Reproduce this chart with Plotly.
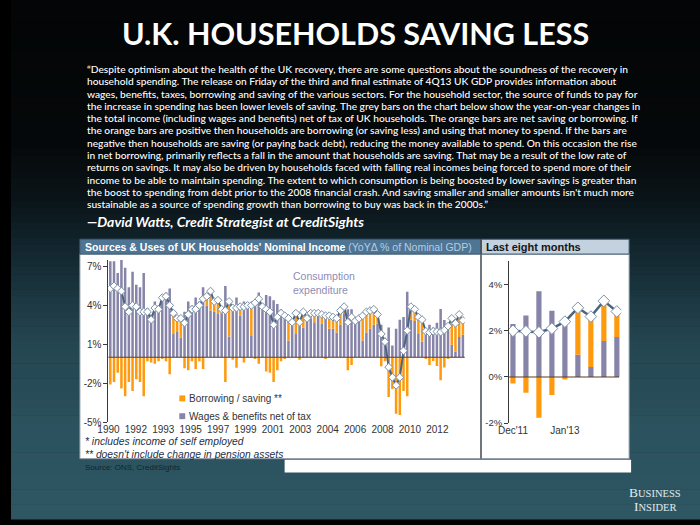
import plotly.graph_objects as go

# ---------------- data ----------------
# Quarterly, 1990Q1 .. 2013Q4 (96 quarters), % of nominal GDP, YoY change
quarter_index = list(range(96))

wages_net_tax = [
    7.4, 7.4, 6.5, 7.5, 6.9, 5.4, 6.6, 5.6, 5.4, 6.5,
    3.8, 3.3, 4.3, 4.0, 4.7, 5.0, 5.3, 1.8, 2.0, 1.5,
    3.5, 4.3, 4.0, 4.6, 4.3, 5.4, 4.0, 3.6, 3.5, 3.4,
    3.4, 5.5, 1.6, 4.0, 4.6, 3.2, 4.3, 3.8, 1.7, 4.3,
    5.0, 3.8, 4.8, 4.7, 4.4, 4.1, 3.7, 3.3, 1.3, 2.7,
    1.8, 2.9, 2.3, 2.8, 3.0, 2.7, 3.1, 2.6, 3.3, 2.2,
    2.2, 1.9, 2.5, 3.4, 3.7, 3.7, 2.6, 2.8, 1.3, 1.9,
    2.2, 2.5, 2.6, 2.5, 1.5, 2.3, 0.9, 2.2, 2.9, 3.1,
    5.06, 2.9, 2.8, 1.8, 1.2, 2.1, 2.5, 2.3, 2.67, 3.72,
    2.87, 2.38, 0.96, 0.43, 1.56, 1.73,
]

borrowing_saving = [
    -2.1, -1.9, -1.2, -2.4, -3.0, -1.9, -2.6, -1.7, -1.9, -3.0,
    -0.3, -0.4, -0.5, -0.3, -0.1, -0.3, -1.3, 1.6, 1.0, 1.5,
    -0.85, -1.0, -0.3, -0.9, -0.3, -0.9, 0.7, 1.5, 0.8, 1.0,
    0.3, -1.9, 2.7, -0.2, -0.8, 0.7, -0.4, 0.2, 2.3, -0.1,
    -0.5, 0.1, -1.1, -1.2, -1.9, -1.0, -0.3, -0.1, 1.7, 0.0,
    1.6, -0.2, 1.2, 0.2, 0.4, 0.7, 0.3, 0.7, -0.1, 1.0,
    0.9, 1.1, 1.1, 0.5, -1.0, -0.6, 0.2, 0.2, 1.9, 1.6,
    1.4, 1.2, 0.7, -0.7, -0.3, -3.06, -2.45, -4.36, -4.45, -2.6,
    -3.0, 1.0, 0.9, 1.3, 1.7, -0.1, -0.6, -0.28, -0.68, -1.77,
    -0.78, -0.11, 2.04, 2.12, 1.7, 1.04,
]

consumption = [
    5.3, 5.5, 5.3, 5.1, 3.9, 3.5, 4.0, 3.9, 3.5, 3.5,
    3.5, 2.9, 3.8, 3.7, 4.6, 4.7, 4.0, 3.4, 3.0, 3.0,
    2.65, 3.3, 3.7, 3.7, 4.0, 4.5, 4.7, 5.1, 4.3, 4.4,
    3.7, 3.6, 4.3, 3.8, 3.8, 3.9, 3.9, 4.0, 4.0, 4.2,
    4.5, 3.9, 3.7, 3.5, 2.5, 3.1, 3.4, 3.2, 3.0, 2.7,
    3.4, 2.7, 3.5, 3.0, 3.4, 3.4, 3.4, 3.3, 3.2, 3.2,
    3.1, 3.0, 3.6, 3.9, 2.7, 3.1, 2.8, 3.0, 3.2, 3.5,
    3.6, 3.7, 3.3, 1.8, 1.2, -0.76, -1.55, -2.16, -1.55, 0.5,
    2.06, 3.9, 3.7, 3.1, 2.9, 2.0, 1.9, 2.0, 1.98, 1.94,
    2.1, 2.4, 3.0, 2.62, 3.3, 2.84,
]

year_tick_labels = ["1990", "1992", "1993", "1995", "1997", "1999", "2001",
                    "2003", "2004", "2006", "2008", "2010", "2012"]

# Last nine quarters (right panel): Dec'11 .. Dec'13
recent_index = list(range(9))
recent_wages = wages_net_tax[-9:]
recent_borrowing = borrowing_saving[-9:]
recent_consumption = consumption[-9:]
recent_tick_labels = ["Dec'11", "Jan'13"]
recent_tick_pos = [0, 4]

left_y_ticks = [-5, -2, 1, 4, 7]
right_y_ticks = [-2, 0, 2, 4]

# ---------------- styling ----------------
W, H = 700, 525
GREY = "#8684a8"
ORANGE = "#ff9a0e"
LINE = "#4b6580"
AXIS = "#3a3a3a"


def px(x):
    return x / W


def py(y):
    return 1 - y / H


fig = go.Figure()

fig.add_trace(go.Bar(x=quarter_index, y=wages_net_tax, marker_color=GREY,
                     marker_line_width=0, width=0.68, xaxis="x", yaxis="y",
                     showlegend=False))
fig.add_trace(go.Bar(x=quarter_index, y=borrowing_saving, marker_color=ORANGE,
                     marker_line_width=0, width=0.68, xaxis="x", yaxis="y",
                     showlegend=False))
fig.add_trace(go.Scatter(x=quarter_index, y=consumption, mode="lines+markers",
                         line=dict(color=LINE, width=2),
                         marker=dict(symbol="diamond", size=6, color="white",
                                     line=dict(color="#7b90a6", width=1)),
                         xaxis="x", yaxis="y", showlegend=False))

fig.add_trace(go.Bar(x=recent_index, y=recent_wages, marker_color=GREY,
                     marker_line_width=0, width=0.4, xaxis="x2", yaxis="y2",
                     showlegend=False))
fig.add_trace(go.Bar(x=recent_index, y=recent_borrowing, marker_color=ORANGE,
                     marker_line_width=0, width=0.4, xaxis="x2", yaxis="y2",
                     showlegend=False))
fig.add_trace(go.Scatter(x=recent_index, y=recent_consumption, mode="lines+markers",
                         line=dict(color=LINE, width=2.5),
                         marker=dict(symbol="diamond", size=9, color="white",
                                     line=dict(color="#7b90a6", width=1)),
                         xaxis="x2", yaxis="y2", showlegend=False))

shapes = []
# background gradient (decoration)
stops = [(0.0, (3, 5, 6)), (0.28, (6, 9, 11)), (0.40, (12, 23, 28)),
         (0.52, (23, 46, 56)), (0.66, (36, 70, 81)), (0.82, (43, 82, 94)),
         (1.0, (47, 88, 100))]
n_bands = 70
for i in range(n_bands):
    t = (i + 0.5) / n_bands
    for j in range(len(stops) - 1):
        if stops[j][0] <= t <= stops[j + 1][0]:
            a, ca = stops[j]
            b, cb = stops[j + 1]
            f = (t - a) / (b - a)
            c = tuple(int(ca[k] + (cb[k] - ca[k]) * f) for k in range(3))
            break
    shapes.append(dict(type="rect", xref="paper", yref="paper", x0=0, x1=1,
                       y0=1 - (i + 1) / n_bands - 0.001, y1=1 - i / n_bands,
                       fillcolor="rgb(%d,%d,%d)" % c, line_width=0, layer="below"))


def rect(x0, y0, x1, y1, fill, line_color=None, lw=0):
    shapes.append(dict(type="rect", xref="paper", yref="paper", x0=px(x0), x1=px(x1),
                       y0=py(y1), y1=py(y0), fillcolor=fill, layer="below",
                       line=dict(width=lw, color=line_color or fill)))


# chart panels
rect(70, 257, 477, 464, "white", "#8a96a2", 1)
rect(478, 257, 628, 464, "white", "#8a96a2", 1)
rect(70, 242, 477, 257, "#4f7594", "#3d5a72", 1)
rect(478, 242, 628, 257, "#c4d1de", "#3d5a72", 1)
rect(278, 465, 630, 478, "white")
shapes.append(dict(type="line", xref="paper", yref="paper", x0=px(477.5), x1=px(477.5),
                   y0=py(464), y1=py(242), line=dict(color="#555", width=1), layer="below"))

# zero lines
shapes.append(dict(type="line", xref="x domain", yref="y", x0=0, x1=1, y0=0, y1=0,
                   line=dict(color="#5c3d1e", width=1.2)))
shapes.append(dict(type="line", xref="x2 domain", yref="y2", x0=0, x1=0.98, y0=0, y1=0,
                   line=dict(color="#5c3d1e", width=1.2)))

# legend squares
rect(171, 400, 177, 406, ORANGE)
rect(171, 418, 177, 424, GREY)

annotations = []


def text(x, y, s, size, color, family="Liberation Sans", xanchor="left",
         yanchor="middle", weight="normal", style="normal", align="left"):
    annotations.append(dict(x=px(x), y=py(y), xref="paper", yref="paper", text=s,
                            showarrow=False, xanchor=xanchor, yanchor=yanchor,
                            align=align,
                            font=dict(family=family, size=size, color=color,
                                      weight=weight, style=style)))


text(350, 33, "U.K. HOUSEHOLDS SAVING LESS", 30.5, "white", family="Lato",
     xanchor="center", weight="bold")

quote_lines = [
    "“Despite optimism about the health of the UK recovery, there are some questions about the soundness of the recovery in",
    "household spending. The release on Friday of the third and final estimate of 4Q13 UK GDP provides information about",
    "wages, benefits, taxes, borrowing and saving of the various sectors. For the household sector, the source of funds to pay for",
    "the increase in spending has been lower levels of saving. The grey bars on the chart below show the year-on-year changes in",
    "the total income (including wages and benefits) net of tax of UK households. The orange bars are net saving or borrowing. If",
    "the orange bars are positive then households are borrowing (or saving less) and using that money to spend. If the bars are",
    "negative then households are saving (or paying back debt), reducing the money available to spend. On this occasion the rise",
    "in net borrowing, primarily reflects a fall in the amount that households are saving. That may be a result of the low rate of",
    "returns on savings. It may also be driven by households faced with falling real incomes being forced to spend more of their",
    "income to be able to maintain spending. The extent to which consumption is being boosted by lower savings is greater than",
    "the boost to spending from debt prior to the 2008 financial crash. And saving smaller and smaller amounts isn't much more",
    "sustainable as a source of spending growth than borrowing to buy was back in the 2000s.”",
]
for i, line in enumerate(quote_lines):
    text(75, 70 + 12.4 * i, line, 10.2, "white", family="Lato", weight=500)
text(75, 224, "—David Watts, Credit Strategist at CreditSights", 14, "white",
     family="Lato", weight="bold", style="italic")

text(73, 249.5, "<b>Sources &amp; Uses of UK Households' Nominal Income</b> "
     "<span style='color:#b6cce0'>(YoYΔ % of Nominal GDP)</span>", 10.5, "white")
text(481, 249.5, "<b>Last eight months</b>", 11, "#151515")

text(318, 286.5, "Consumption<br>expenditure", 10.5, "#8f8cb6", xanchor="center")
text(179, 403, "Borrowing / saving **", 10, "#333333")
text(179, 421, "Wages &amp; benefits net of tax", 10, "#333333")
text(73, 447, "* includes income of self employed", 10.3, "#24304a", style="italic")
text(73, 460, "** doesn't include change in pension assets", 10.3, "#24304a", style="italic")
text(73, 472.5, "Source: ONS, CreditSights", 8, "#15232a")

text(654, 498.5, "B<span style='font-size:10.5px'>USINESS</span>", 13.5, "#e3ebee",
     family="Liberation Serif", xanchor="center")
text(654, 512.5, "I<span style='font-size:10.5px'>NSIDER</span>", 13.5, "#e3ebee",
     family="Liberation Serif", xanchor="center")

tick_font = dict(family="Liberation Sans", size=10, color="#333333")

fig.update_layout(
    width=W, height=H, margin=dict(l=0, r=0, t=0, b=0),
    paper_bgcolor="black", plot_bgcolor="rgba(0,0,0,0)",
    barmode="relative", showlegend=False,
    shapes=shapes, annotations=annotations,
    xaxis=dict(domain=[px(99), px(461)], range=[-0.5, 95.5], anchor="y",
               showgrid=False, zeroline=False, showline=False, ticks="",
               tickmode="array",
               tickvals=[-0.5 + k * 96 / 13 for k in range(13)],
               ticktext=year_tick_labels, tickfont=tick_font),
    yaxis=dict(domain=[py(427), py(263)], range=[-5, 7.5], anchor="x",
               showgrid=False, zeroline=False, showline=True, linecolor=AXIS,
               linewidth=1, ticks="outside", ticklen=4, tickcolor=AXIS,
               tickmode="array", tickvals=left_y_ticks,
               ticktext=["%d%%" % v for v in left_y_ticks], tickfont=tick_font),
    xaxis2=dict(domain=[px(506), px(620)], range=[-0.3, 8.34], anchor="y2",
                showgrid=False, zeroline=False, showline=False, ticks="",
                tickmode="array", tickvals=recent_tick_pos,
                ticktext=recent_tick_labels, tickfont=tick_font),
    yaxis2=dict(domain=[py(428), py(264)], range=[-2, 5.03], anchor="x2",
                showgrid=False, zeroline=False, showline=True, linecolor=AXIS,
                linewidth=1, ticks="outside", ticklen=4, tickcolor=AXIS,
                tickmode="array", tickvals=right_y_ticks,
                ticktext=["%d%%" % v for v in right_y_ticks],
                tickfont=dict(family="Liberation Sans", size=9.5, color="#333333")),
)

# remove the default page margin so the 700x525 figure fills the window exactly
fig.write_html(
    "out.html",
    config={"displayModeBar": False},
    post_script="document.body.style.margin='0px';"
                "document.body.style.overflow='hidden';"
                "document.body.style.background='#000';",
)
